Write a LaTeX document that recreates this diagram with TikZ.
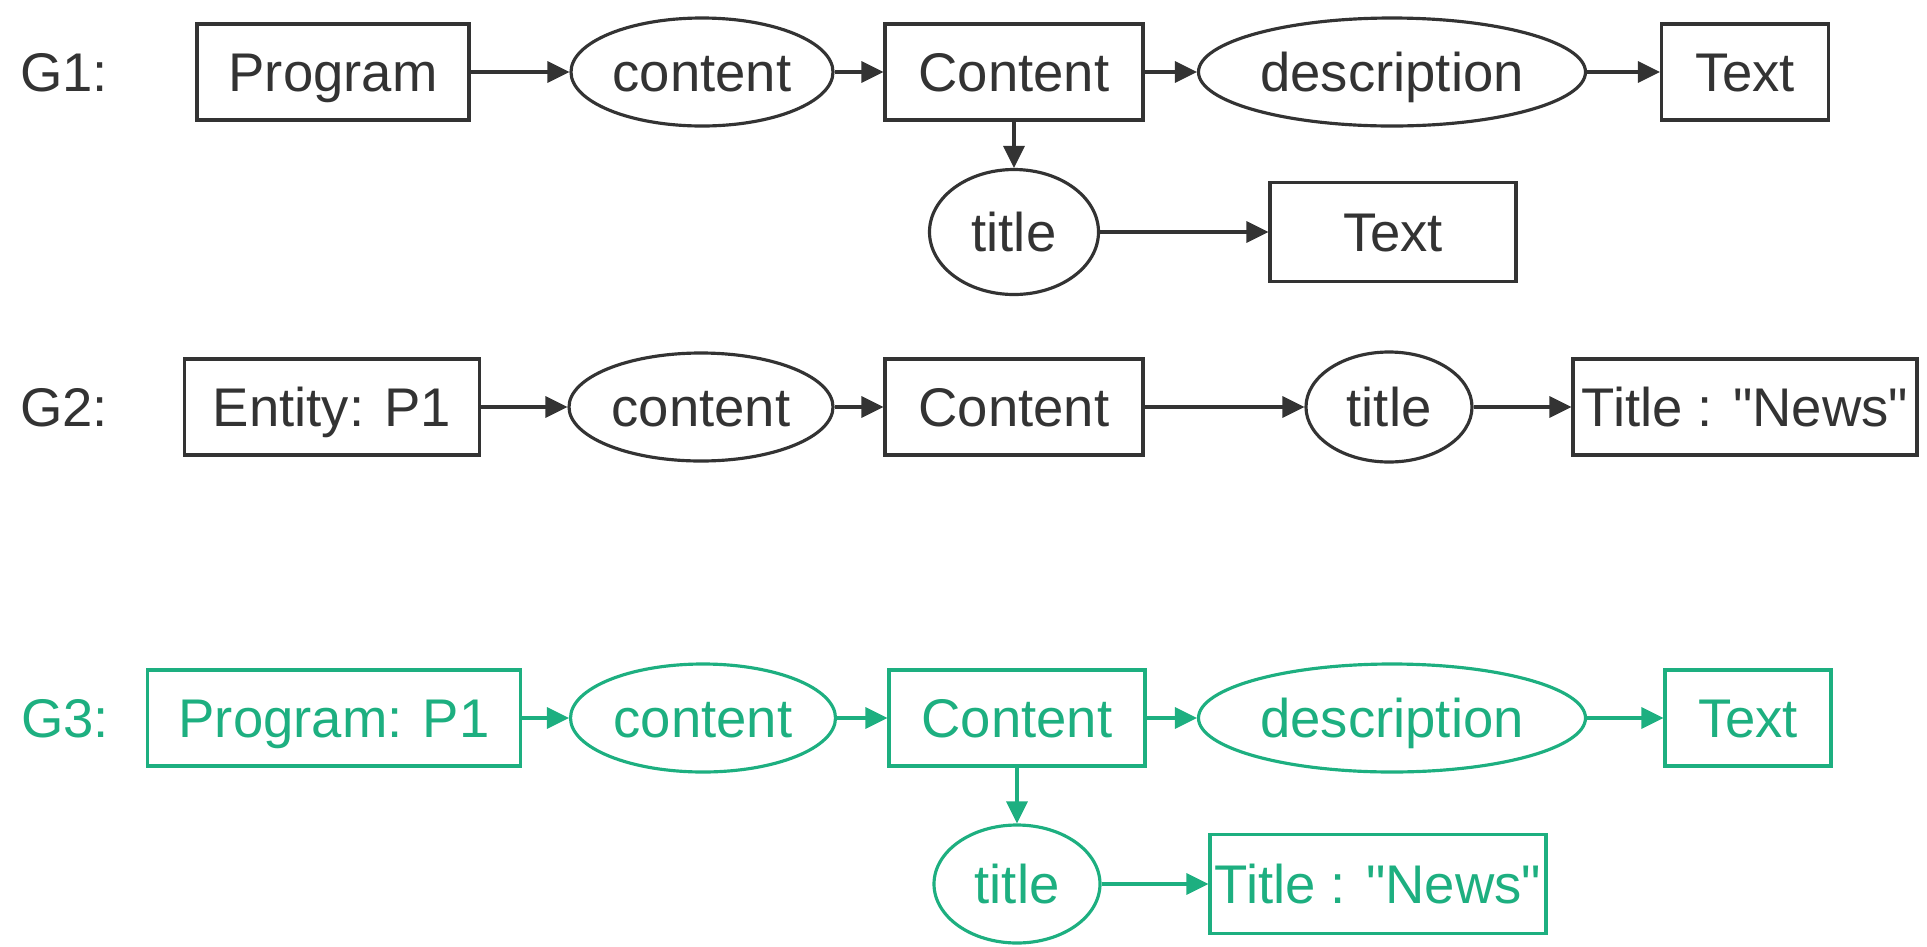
\documentclass[tikz,border=0pt]{standalone}
\usepackage{fontspec}
\setmainfont{Liberation Sans}
\usetikzlibrary{arrows.meta,positioning,shapes.geometric}
\definecolor{ink}{RGB}{51,51,51}
\definecolor{mint}{RGB}{29,175,128}
\begin{document}
\begin{tikzpicture}[on grid,color=ink,line width=0.9pt,
    >={Triangle[length=2.2mm,width=2.1mm]},
    every node/.style={font=\fontsize{15.5}{18}\selectfont,text height=11.1pt,text depth=0pt},
    typ/.style={draw,rectangle,minimum height=0.96cm,inner sep=0pt},
    prop/.style={draw,ellipse,minimum height=1.08cm,inner sep=0pt}]
  \useasboundingbox (0,0) rectangle (19.27,-9.46);
  % G1
  \node (g_1) at (0.64,-0.72) {G1:};
  \node[typ,minimum width=2.72cm] (p_1) at (3.33,-0.72) {Program};
  \node[prop,minimum width=2.62cm] (c_1) [right=3.69cm of p_1] {content};
  \node[typ,minimum width=2.58cm] (k_1) [right=3.12cm of c_1] {Content};
  \node[prop,minimum width=3.87cm] (d_1) [right=3.78cm of k_1] {description};
  \node[typ,minimum width=1.67cm] (x_1) [right=3.53cm of d_1] {Text};
  \node[prop,minimum width=1.69cm,minimum height=1.25cm] (t_1) [below=1.6cm of k_1] {title};
  \node[typ,minimum width=2.46cm,minimum height=0.99cm] (y_1) [right=3.79cm of t_1] {Text};
  \path[->] (p_1) edge (c_1)
    (c_1) edge (k_1)
    (k_1) edge (d_1)
      edge (t_1)
    (d_1) edge (x_1)
    (t_1) edge (y_1);
  % G2
  \node (g_2) at (0.64,-4.07) {G2:};
  \node[typ,minimum width=2.95cm] (e_2) at (3.32,-4.07) {Entity: P1};
  \node[prop,minimum width=2.64cm] (c_2) [right=3.69cm of e_2] {content};
  \node[typ,minimum width=2.58cm] (k_2) [right=3.13cm of c_2] {Content};
  \node[prop,minimum width=1.66cm,minimum height=1.1cm] (t_2) [right=3.75cm of k_2] {title};
  \node[typ,minimum width=3.44cm] (n_2) [right=3.56cm of t_2] {Title : \textquotedbl News\textquotedbl};
  \path[->] (e_2) edge (c_2)
    (c_2) edge (k_2)
    (k_2) edge (t_2)
    (t_2) edge (n_2);
  % G3
  \begin{scope}[color=mint]
  \node (g_3) at (0.65,-7.18) {G3:};
  \node[typ,minimum width=3.73cm] (p_3) at (3.34,-7.18) {Program: P1};
  \node[prop,minimum width=2.65cm] (c_3) [right=3.69cm of p_3] {content};
  \node[typ,minimum width=2.56cm] (k_3) [right=3.14cm of c_3] {Content};
  \node[prop,minimum width=3.87cm] (d_3) [right=3.75cm of k_3] {description};
  \node[typ,minimum width=1.66cm] (x_3) [right=3.56cm of d_3] {Text};
  \node[prop,minimum width=1.66cm,minimum height=1.18cm] (t_3) [below=1.66cm of k_3] {title};
  \node[typ,minimum width=3.36cm,minimum height=0.99cm] (n_3) [right=3.61cm of t_3] {Title : \textquotedbl News\textquotedbl};
  \path[->] (p_3) edge (c_3)
    (c_3) edge (k_3)
    (k_3) edge (d_3)
      edge (t_3)
    (d_3) edge (x_3)
    (t_3) edge (n_3);
  \end{scope}
\end{tikzpicture}
\end{document}
